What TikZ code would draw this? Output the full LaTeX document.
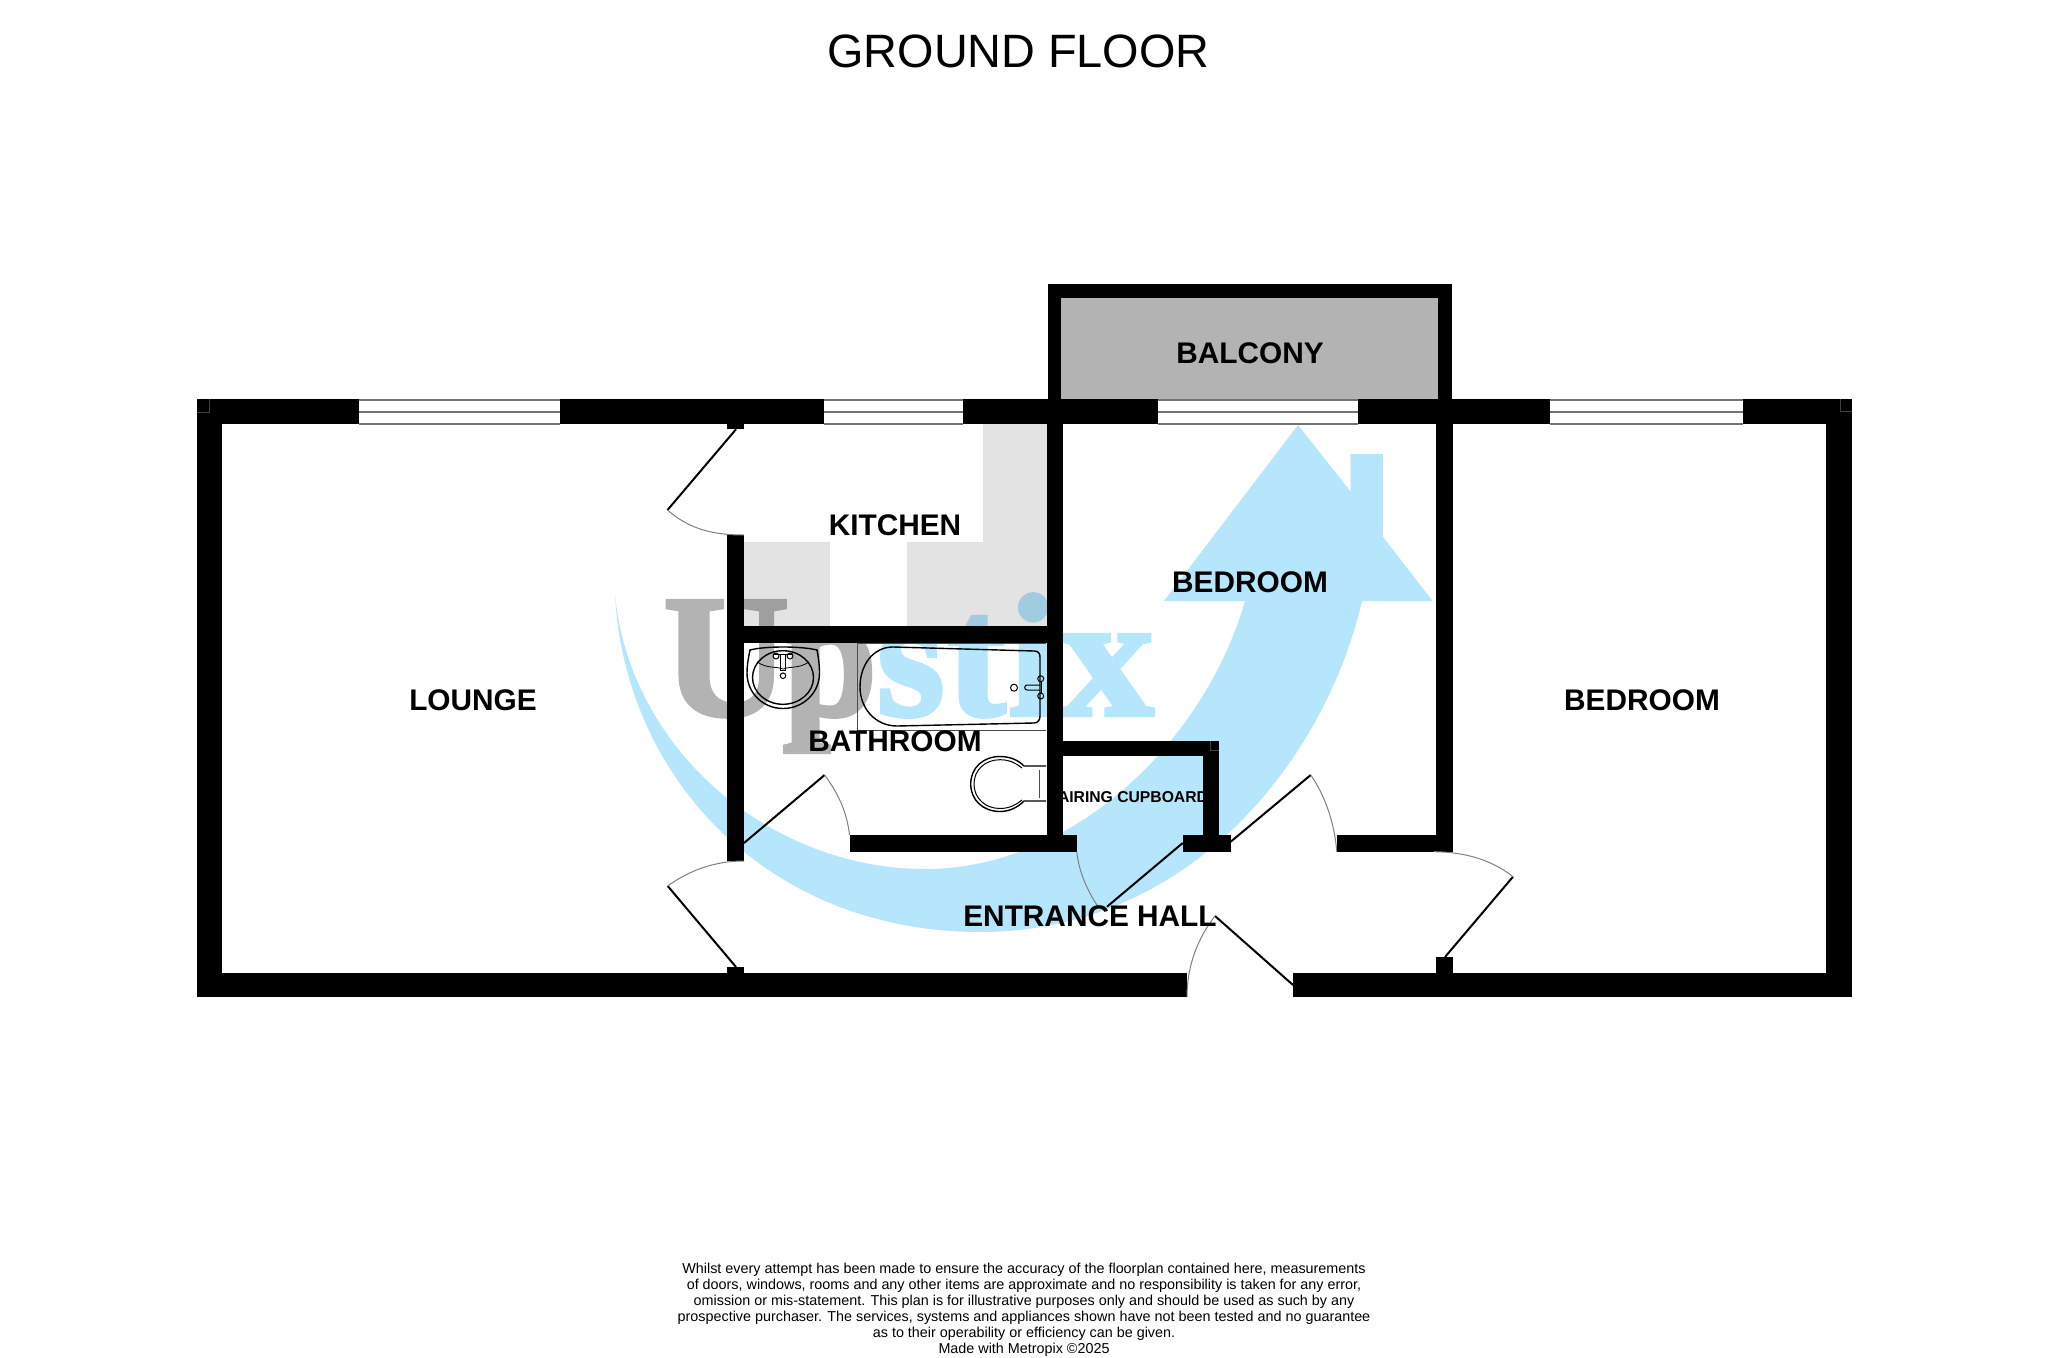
\documentclass[tikz,border=0pt]{standalone}
\usepackage{fontspec}
\setmainfont{Liberation Sans}
\newfontfamily\wmfont[BoldFeatures={FakeBold=2.5}]{Liberation Serif}
\definecolor{wmblue}{HTML}{B5E6FB}
\definecolor{wmgrey}{HTML}{B3B3B3}
\definecolor{kitgrey}{HTML}{E3E3E3}
\definecolor{balgrey}{HTML}{B3B3B3}
\tikzset{
  wall/.style={fill=black},
  winline/.style={draw=black!55,line width=1pt},
  leaf/.style={draw=black,line width=1pt},
  swing/.style={draw=black!50,line width=.5pt},
  fixture/.style={draw=black,line width=.7pt},
  fixturebox/.style={draw=black!70,line width=.5pt},
  corner/.style={draw=black!75,line width=.25pt},
  room/.style={font=\fontsize{14.9}{16}\selectfont\bfseries,inner sep=0pt},
}
\begin{document}
\begin{tikzpicture}[x=0.5pt,y=-0.5pt]
\useasboundingbox (0,0) rectangle (2048,1358);
\fill[white] (0,0) rectangle (2048,1358);
% watermark
\fill[wmblue] (615,595) .. controls (630,750) and (770,869) .. (925,869)
  .. controls (1075,869) and (1205,740) .. (1245,601)
  -- (1164,601) -- (1298,425) -- (1350.7,491.7) -- (1350.7,454) -- (1382.8,454) -- (1382.8,536.7) -- (1432.6,601) -- (1362,601)
  .. controls (1325,760) and (1190,932) .. (980,932)
  .. controls (770,932) and (625,780) .. (615,595) -- cycle;
\node[anchor=base west,inner sep=0pt,font=\wmfont\bfseries\fontsize{87}{87}\selectfont] (logo) at (663,715) {\textcolor{wmgrey}{U\kern-3pt\scalebox{.97}[1]{p}}\textcolor{wmblue}{s\kern1.5pt t\kern1.5pt i\kern1.5pt\scalebox{1.08}[1]{x}}};
% kitchen shading
\begin{scope}[blend mode=multiply]
\fill[kitgrey] (983,424) rectangle (1047,542);
\fill[kitgrey] (907,542) rectangle (1047,626);
\fill[kitgrey] (744,542) rectangle (830,626);
\end{scope}
% balcony
\fill[balgrey] (1061,298) rectangle (1438,399);
\fill[wall] (1048,284) rectangle (1451.5,298.3);
\fill[wall] (1048,284) rectangle (1061.4,399);
\fill[wall] (1438,284) rectangle (1451.5,399);
% outer walls
\fill[wall] (197,399) rectangle (358.6,424);
\fill[wall] (560,399) rectangle (823.5,424);
\fill[wall] (963,399) rectangle (1157.8,424);
\fill[wall] (1357.6,399) rectangle (1550.4,424);
\fill[wall] (1742.7,399) rectangle (1851.5,424);
\fill[wall] (197,399) rectangle (221.5,997);
\fill[wall] (1826,399) rectangle (1851.5,997);
\fill[wall] (197,972.7) rectangle (1187,997);
\fill[wall] (1293,972.7) rectangle (1851.5,997);
% inner walls
\fill[wall] (727,424) rectangle (744,429.3);
\fill[wall] (727,535) rectangle (744,861);
\fill[wall] (744,626) rectangle (1047,642.7);
\fill[wall] (1047,424) rectangle (1063,851.7);
\fill[wall] (850,835) rectangle (1077,851.7);
\fill[wall] (1063,740.5) rectangle (1219,756.3);
\fill[wall] (1202.7,740.5) rectangle (1219,851.7);
\fill[wall] (1182.7,835) rectangle (1230.7,851.7);
\fill[wall] (1337,835) rectangle (1453,851.7);
\fill[wall] (1436.4,424) rectangle (1453,851.7);
\fill[wall] (727,967) rectangle (744,973);
\fill[wall] (1436.4,957) rectangle (1453,973);
% corner ticks
\draw[corner] (197,412) -- (209.5,412) -- (209.5,399);
\draw[corner] (1840,399) -- (1840,411) -- (1851.5,411);
\draw[corner] (1210,741) -- (1210,750) -- (1219,750);
% windows
\foreach \a/\b in {358.6/560,823.5/963,1157.8/1357.6,1550.4/1742.7}{
  \draw[winline] (\a,399.5) -- (\b,399.5);
  \draw[winline] (\a,411.7) -- (\b,411.7);
  \draw[winline] (\a,424) -- (\b,424);
}
% doors
\draw[leaf] (736,429.3) -- (667.5,510);
\draw[swing] (667.5,510) .. controls (690,530) and (715,535) .. (744,535);
\draw[leaf] (744,843) -- (824.6,775);
\draw[swing] (824.6,775) .. controls (838,793) and (847,812) .. (849.5,835);
\draw[leaf] (736,967) -- (667.7,886);
\draw[swing] (667.7,886) .. controls (690,870) and (715,861) .. (744,861);
\draw[leaf] (1182.7,843) -- (1107,906.7);
\draw[swing] (1076.7,851.7) .. controls (1079,872) and (1087,890) .. (1098,906.7);
\draw[leaf] (1230.7,841.7) -- (1310.7,775);
\draw[swing] (1310.7,775) .. controls (1325,795) and (1335,825) .. (1336.7,851.7);
\draw[leaf] (1293,985) -- (1215,916);
\draw[swing] (1187,997) .. controls (1187,965) and (1198,938) .. (1215,916);
\draw[leaf] (1445,957) -- (1513,876.7);
\draw[swing] (1434,851.7) .. controls (1465,852) and (1492,860) .. (1513,876.7);
% bath
\draw[fixturebox] (857,643) -- (857,730) -- (1046,730);
\draw[fixturebox] (857,643) -- (1046,643);
\draw[fixture] (893,647) -- (1034,651) .. controls (1038,651) and (1040,653) .. (1040,657) -- (1040,716) .. controls (1040,720) and (1038,723) .. (1034,723) -- (897,726) .. controls (875,726) and (860,708) .. (860,687) .. controls (860,665) and (873,647) .. (893,647) -- cycle;
\draw[fixture,line width=.5pt] (1014,687.7) circle[radius=3.5];
\draw[fixture,line width=.5pt] (1040,685) -- (1027,685) .. controls (1024,685) and (1024,690) .. (1027,690) -- (1040,690);
\draw[fixture,line width=.5pt] (1040.7,678.7) circle[radius=3];
\draw[fixture,line width=.5pt] (1040.7,696) circle[radius=3];
\draw[fixture,line width=.5pt] (1041,681) -- (1041,693);
% sink
\draw[fixture] (750,650) .. controls (765,646) and (801,646) .. (817,650) .. controls (818,655) and (819.5,664) .. (819.5,673) .. controls (819.5,693) and (803,708.5) .. (783,708.5) .. controls (763,708.5) and (747,693) .. (747,673) .. controls (747,664) and (749,655) .. (750,650) -- cycle;
\draw[fixture] (783,677.5) ellipse[x radius=30.5,y radius=26.8];
\draw[fixture,line width=.4pt] (757,662) .. controls (768,669) and (775,666) .. (783,669) .. controls (791,666) and (798,669) .. (809,662);
\draw[fixture,line width=.5pt] (776,656) circle[radius=3];
\draw[fixture,line width=.5pt] (790,656) circle[radius=3];
\draw[fixture,line width=.5pt] (780.5,654) rectangle (785,670);
\draw[fixture,line width=.5pt] (773,654) -- (793,654);
\draw[fixture,line width=.5pt] (783,675.7) circle[radius=2.8];
% toilet
\draw[fixture] (1046,766) -- (1024,766) .. controls (1018,760) and (1010,756.5) .. (1000,756.5) .. controls (983,756.5) and (970.7,768) .. (970.7,784) .. controls (970.7,800) and (983,811.5) .. (1000,811.5) .. controls (1010,811.5) and (1018,807) .. (1024,801) -- (1046,801);
\draw[fixture,line width=.5pt] (1022,768) .. controls (1016,763) and (1009,759.7) .. (1000,759.7) .. controls (985,759.7) and (974,770) .. (974,784) .. controls (974,798) and (985,808.5) .. (1000,808.5) .. controls (1009,808.5) and (1016,805) .. (1022,800);
\draw[fixturebox] (1039.3,770) -- (1039.3,798);
% texts
\node[font=\fontsize{23.4}{26}\selectfont,inner sep=0pt] (title) at (1018.5,51) {GROUND FLOOR};
\node[room] (balcony) at (1250,353.5) {BALCONY};
\node[room] (kitchen) at (895,525) {KITCHEN};
\node[room] (bed1) at (1250,582) {BEDROOM};
\node[room] (lounge) at (473,700) {LOUNGE};
\node[room] (bed2) at (1642,700) {BEDROOM};
\node[room] (bathroom) at (895,741) {BATHROOM};
\node[room] (hall) at (1090,916) {ENTRANCE HALL};
\node[inner sep=0pt,font=\fontsize{7.85}{9}\selectfont\bfseries] (airing) at (1133,797) {AIRING CUPBOARD};
\node[inner sep=0pt,align=center,font=\fontsize{7.18}{8}\selectfont] (legal) at (1024,1310) {Whilst every attempt has been made to ensure the accuracy of the floorplan contained here, measurements\\
of doors, windows, rooms and any other items are approximate and no responsibility is taken for any error,\\
omission or mis-statement. This plan is for illustrative purposes only and should be used as such by any\\
prospective purchaser. The services, systems and appliances shown have not been tested and no guarantee\\
as to their operability or efficiency can be given.\\
Made with Metropix ©2025};
\end{tikzpicture}
\end{document}
